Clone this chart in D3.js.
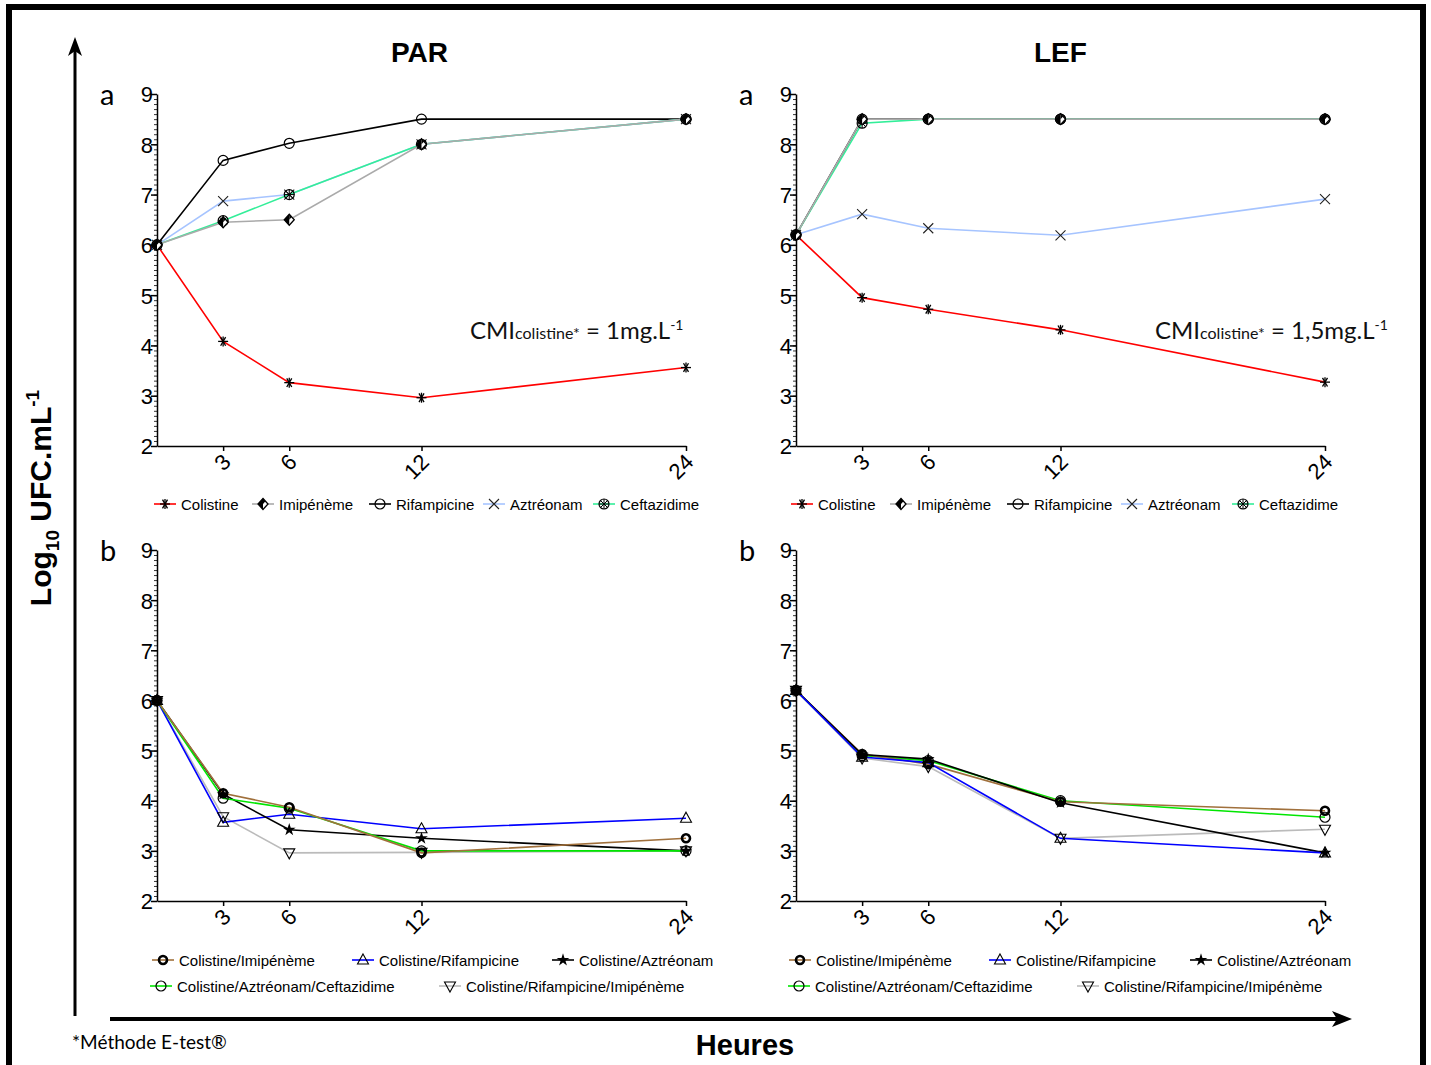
<!DOCTYPE html>
<html><head><meta charset="utf-8">
<script src="https://cdn.jsdelivr.net/npm/d3@7"></script>
<style>body{margin:0;background:#fff}svg{display:block}</style>
</head><body>
<script>
// ---------- DATA ----------
const hours = [0, 3, 6, 12, 24];
const xTickValues = [3, 6, 12, 24];
const xTickLabels = ["3", "6", "12", "24"];
const yTickValues = [2, 3, 4, 5, 6, 7, 8, 9];

const singleNames = ["Colistine", "Imipénème", "Rifampicine", "Aztréonam", "Ceftazidime"];
const comboNames = ["Colistine/Imipénème", "Colistine/Rifampicine", "Colistine/Aztréonam",
                    "Colistine/Aztréonam/Ceftazidime", "Colistine/Rifampicine/Imipénème"];

// PAR (a)
const parColistine   = [6.0, 4.08, 3.26, 2.96, 3.56];
const parImipeneme   = [6.0, 6.45, 6.50, 8.00, 8.50];
const parRifampicine = [6.0, 7.68, 8.02, 8.50, 8.50];
const parAztreonam   = [6.0, 6.87, 7.00, 8.00, 8.50];
const parCeftazidime = [6.0, 6.48, 7.00, 8.00, 8.50];
// LEF (a)
const lefColistine   = [6.2, 4.95, 4.72, 4.31, 3.27];
const lefImipeneme   = [6.2, 8.50, 8.50, 8.50, 8.50];
const lefRifampicine = [6.2, 8.50, 8.50, 8.50, 8.50];
const lefAztreonam   = [6.2, 6.61, 6.33, 6.19, 6.91];
const lefCeftazidime = [6.2, 8.42, 8.50, 8.50, 8.50];
// PAR (b)
const parColImi    = [6.0, 4.15, 3.87, 2.96, 3.25];
const parColRif    = [6.0, 3.57, 3.73, 3.44, 3.65];
const parColAzt    = [6.0, 4.13, 3.42, 3.25, 3.00];
const parColAztCef = [6.0, 4.05, 3.85, 3.00, 3.00];
const parColRifImi = [6.0, 3.68, 2.96, 2.97, 3.00];
// LEF (b)
const lefColImi    = [6.2, 4.93, 4.73, 3.98, 3.80];
const lefColRif    = [6.2, 4.87, 4.76, 3.25, 2.96];
const lefColAzt    = [6.2, 4.92, 4.83, 3.96, 2.96];
const lefColAztCef = [6.2, 4.90, 4.80, 4.00, 3.67];
const lefColRifImi = [6.2, 4.85, 4.68, 3.25, 3.43];

// ---------- STYLES ----------
const singleStyle = {
  "Colistine":   {color: "#ff0000", marker: "asterisk"},
  "Imipénème":   {color: "#aaaaaa", marker: "diamondHalf"},
  "Rifampicine": {color: "#000000", marker: "circle"},
  "Aztréonam":   {color: "#a6c4ff", marker: "x"},
  "Ceftazidime": {color: "#33ee99", marker: "circleX"}
};
const comboStyle = {
  "Colistine/Imipénème":             {color: "#a0703c", marker: "circleBold"},
  "Colistine/Rifampicine":           {color: "#0000ff", marker: "triUp"},
  "Colistine/Aztréonam":             {color: "#000000", marker: "star"},
  "Colistine/Aztréonam/Ceftazidime": {color: "#00e600", marker: "circle"},
  "Colistine/Rifampicine/Imipénème": {color: "#bbbbbb", marker: "triDown"}
};

const W = 1431, H = 1065;
const svg = d3.select("body").append("svg").attr("width", W).attr("height", H)
  .style("font-family", "'Liberation Sans', Arial, sans-serif");

// outer frame
svg.append("path").attr("d", `M9,1070 V7 H1423 V1070`).attr("fill", "none")
  .attr("stroke", "#000").attr("stroke-width", 6);

function drawMarker(g, type, x, y) {
  const m = g.append("g").attr("transform", `translate(${x},${y})`);
  const s = "#000";
  switch (type) {
    case "asterisk": {
      const r = 5;
      [0, 60, 120].forEach(a => {
        const rad = a * Math.PI / 180;
        m.append("line").attr("x1", -r * Math.cos(rad)).attr("y1", -r * Math.sin(rad))
          .attr("x2", r * Math.cos(rad)).attr("y2", r * Math.sin(rad)).attr("stroke", s).attr("stroke-width", 1.3);
      });
      m.append("line").attr("x1", 0).attr("y1", -5).attr("x2", 0).attr("y2", 5).attr("stroke", s).attr("stroke-width", 1.3);
      break;
    }
    case "diamondHalf":
      m.append("path").attr("d", "M0,-5.5 L5,0 L0,5.5 L-5,0Z").attr("fill", "#fff").attr("stroke", s).attr("stroke-width", 1.3);
      m.append("path").attr("d", "M0,-5.5 L0,5.5 L-5,0Z").attr("fill", s);
      m.append("path").attr("d", "M0,-5.5 L2.5,-2.75 L0,0Z").attr("fill", s);
      break;
    case "circle":
      m.append("circle").attr("r", 5).attr("fill", "none").attr("stroke", s).attr("stroke-width", 1.2);
      break;
    case "circleBold":
      m.append("circle").attr("r", 4).attr("fill", "none").attr("stroke", s).attr("stroke-width", 2.6);
      break;
    case "x":
      m.append("path").attr("d", "M-5,-5 L5,5 M-5,5 L5,-5").attr("stroke", "#222").attr("stroke-width", 1.1);
      break;
    case "circleX":
      m.append("circle").attr("r", 5).attr("fill", "none").attr("stroke", s).attr("stroke-width", 1.2);
      m.append("path").attr("d", "M-3.5,-3.5 L3.5,3.5 M-3.5,3.5 L3.5,-3.5 M0,-5 V5 M-5,0 H5").attr("stroke", s).attr("stroke-width", 1);
      break;
    case "triUp":
      m.append("path").attr("d", "M0,-6 L5.5,4 L-5.5,4Z").attr("fill", "none").attr("stroke", s).attr("stroke-width", 1.1);
      break;
    case "triDown":
      m.append("path").attr("d", "M0,6 L5.5,-4 L-5.5,-4Z").attr("fill", "none").attr("stroke", s).attr("stroke-width", 1.1);
      break;
    case "star":
      m.append("path").attr("d", d3.symbol(d3.symbolStar, 50)()).attr("fill", s);
      break;
  }
}

const panels = [
  {x0: 157, x1: 686, yTop: 94,  yBot: 446, label: "a", names: singleNames, styles: singleStyle,
   order: ["Rifampicine", "Aztréonam", "Colistine", "Ceftazidime", "Imipénème"],
   data: {"Colistine": parColistine, "Imipénème": parImipeneme, "Rifampicine": parRifampicine, "Aztréonam": parAztreonam, "Ceftazidime": parCeftazidime},
   legend: [[165, 504], [263, 504], [380, 504], [494, 504], [604, 504]], cmi: ["1", 470]},
  {x0: 796, x1: 1325, yTop: 94, yBot: 446, label: "a", names: singleNames, styles: singleStyle,
   order: ["Rifampicine", "Aztréonam", "Colistine", "Ceftazidime", "Imipénème"],
   data: {"Colistine": lefColistine, "Imipénème": lefImipeneme, "Rifampicine": lefRifampicine, "Aztréonam": lefAztreonam, "Ceftazidime": lefCeftazidime},
   legend: [[802, 504], [901, 504], [1018, 504], [1132, 504], [1243, 504]], cmi: ["1,5", 1155]},
  {x0: 157, x1: 686, yTop: 550, yBot: 901, label: "b", names: comboNames, styles: comboStyle,
   order: ["Colistine/Rifampicine/Imipénème", "Colistine/Rifampicine", "Colistine/Aztréonam", "Colistine/Aztréonam/Ceftazidime", "Colistine/Imipénème"],
   data: {"Colistine/Imipénème": parColImi, "Colistine/Rifampicine": parColRif, "Colistine/Aztréonam": parColAzt, "Colistine/Aztréonam/Ceftazidime": parColAztCef, "Colistine/Rifampicine/Imipénème": parColRifImi},
   legend: [[163, 960], [363, 960], [563, 960], [161, 986], [450, 986]]},
  {x0: 796, x1: 1325, yTop: 550, yBot: 901, label: "b", names: comboNames, styles: comboStyle,
   order: ["Colistine/Rifampicine/Imipénème", "Colistine/Aztréonam/Ceftazidime", "Colistine/Imipénème", "Colistine/Aztréonam", "Colistine/Rifampicine"],
   data: {"Colistine/Imipénème": lefColImi, "Colistine/Rifampicine": lefColRif, "Colistine/Aztréonam": lefColAzt, "Colistine/Aztréonam/Ceftazidime": lefColAztCef, "Colistine/Rifampicine/Imipénème": lefColRifImi},
   legend: [[800, 960], [1000, 960], [1201, 960], [799, 986], [1088, 986]]}
];

panels.forEach(p => {
  const x = d3.scaleLinear().domain([0, 24]).range([p.x0, p.x1]);
  const y = d3.scaleLinear().domain([2, 9]).range([p.yBot, p.yTop]);
  const g = svg.append("g");

  // minor y ticks
  const minor = d3.range(2, 9.001, 0.1).map(v => +v.toFixed(1));
  g.append("g").attr("transform", `translate(${p.x0},0)`)
    .call(d3.axisLeft(y).tickValues(minor).tickSize(3).tickFormat(""))
    .call(a => a.select(".domain").remove())
    .selectAll("line").attr("stroke", "#000").attr("stroke-width", 0.8);
  // major y axis
  const ya = g.append("g").attr("transform", `translate(${p.x0},0)`)
    .call(d3.axisLeft(y).tickValues(yTickValues).tickSize(6).tickSizeOuter(0).tickFormat(d3.format("d")));
  ya.select(".domain").attr("stroke-width", 1.5);
  ya.selectAll("line").attr("stroke-width", 1.5);
  ya.selectAll("text").attr("font-size", 22).attr("x", -4).attr("dy", "0.36em")
    .style("font-family", "'Liberation Sans', Arial, sans-serif").attr("fill", "#000");

  // x axis
  const xa = g.append("g").attr("transform", `translate(0,${p.yBot})`)
    .call(d3.axisBottom(x).tickValues(xTickValues).tickSize(5).tickSizeOuter(0)
      .tickFormat((d, i) => xTickLabels[i]));
  xa.select(".domain").attr("stroke-width", 1.5);
  xa.selectAll("line").attr("stroke-width", 1.5);
  xa.selectAll("text").attr("font-size", 22).attr("text-anchor", "end")
    .style("font-family", "'Liberation Sans', Arial, sans-serif").attr("fill", "#000")
    .attr("transform", "translate(3,12) rotate(-45)").attr("x", 0).attr("y", 0).attr("dy", "0.35em");

  // panel label
  svg.append("text").attr("x", p.x0 - 57).attr("y", p.yTop + 11).attr("font-size", 29)
    .style("font-family", "Lato, 'Open Sans', sans-serif").text(p.label);

  // lines
  const line = d3.line().x((d, i) => x(hours[i])).y(d => y(d));
  p.order.forEach(n => {
    g.append("path").datum(p.data[n]).attr("d", line).attr("fill", "none")
      .attr("stroke", p.styles[n].color).attr("stroke-width", 1.6);
  });
  p.order.forEach(n => {
    p.data[n].forEach((v, i) => drawMarker(g, p.styles[n].marker, x(hours[i]), y(v)));
  });

  // legend
  p.names.forEach((n, i) => {
    const [lx, ly] = p.legend[i];
    svg.append("line").attr("x1", lx - 11).attr("x2", lx + 11).attr("y1", ly).attr("y2", ly)
      .attr("stroke", p.styles[n].color).attr("stroke-width", 1.6);
    drawMarker(svg, p.styles[n].marker, lx, ly);
    svg.append("text").attr("x", lx + 16).attr("y", ly + 5.5).attr("font-size", 15).text(n);
  });

  // CMI annotation
  if (p.cmi) {
    const t = svg.append("text").attr("x", p.cmi[1]).attr("y", 339)
      .style("font-family", "Lato, 'Open Sans', sans-serif").attr("font-size", 24).attr("fill", "#111");
    t.append("tspan").text("CMI");
    t.append("tspan").attr("font-size", 16).text("colistine*");
    t.append("tspan").text(" = " + p.cmi[0] + "mg.L");
    t.append("tspan").attr("font-size", 14).attr("dy", -9).text("-1");
  }
});

// titles
svg.append("text").attr("x", 391).attr("y", 62).attr("font-size", 28).attr("font-weight", "bold").text("PAR");
svg.append("text").attr("x", 1034).attr("y", 62).attr("font-size", 28).attr("font-weight", "bold").text("LEF");

// y label
const yl = svg.append("text").attr("transform", "translate(51,498) rotate(-90)")
  .attr("text-anchor", "middle").attr("font-size", 30).attr("font-weight", "bold");
yl.append("tspan").text("Log");
yl.append("tspan").attr("font-size", 19).attr("dy", 8).text("10");
yl.append("tspan").attr("dy", -8).text(" UFC.mL");
yl.append("tspan").attr("font-size", 19).attr("dy", -12).text("-1");

// arrows
svg.append("line").attr("x1", 75).attr("y1", 1016).attr("x2", 75).attr("y2", 50)
  .attr("stroke", "#000").attr("stroke-width", 3);
svg.append("path").attr("d", "M75,37 L68,56 L75,51 L82,56Z").attr("fill", "#000");
svg.append("line").attr("x1", 110).attr("y1", 1019).attr("x2", 1338).attr("y2", 1019)
  .attr("stroke", "#000").attr("stroke-width", 4);
svg.append("path").attr("d", "M1352,1019 L1332,1011 L1337,1019 L1332,1027Z").attr("fill", "#000");

svg.append("text").attr("x", 745).attr("y", 1055).attr("text-anchor", "middle")
  .attr("font-size", 29).attr("font-weight", "bold").text("Heures");
svg.append("text").attr("x", 72).attr("y", 1049).attr("font-size", 19)
  .style("font-family", "Lato, 'Open Sans', sans-serif").text("*Méthode E-test®");
</script>
</body></html>
